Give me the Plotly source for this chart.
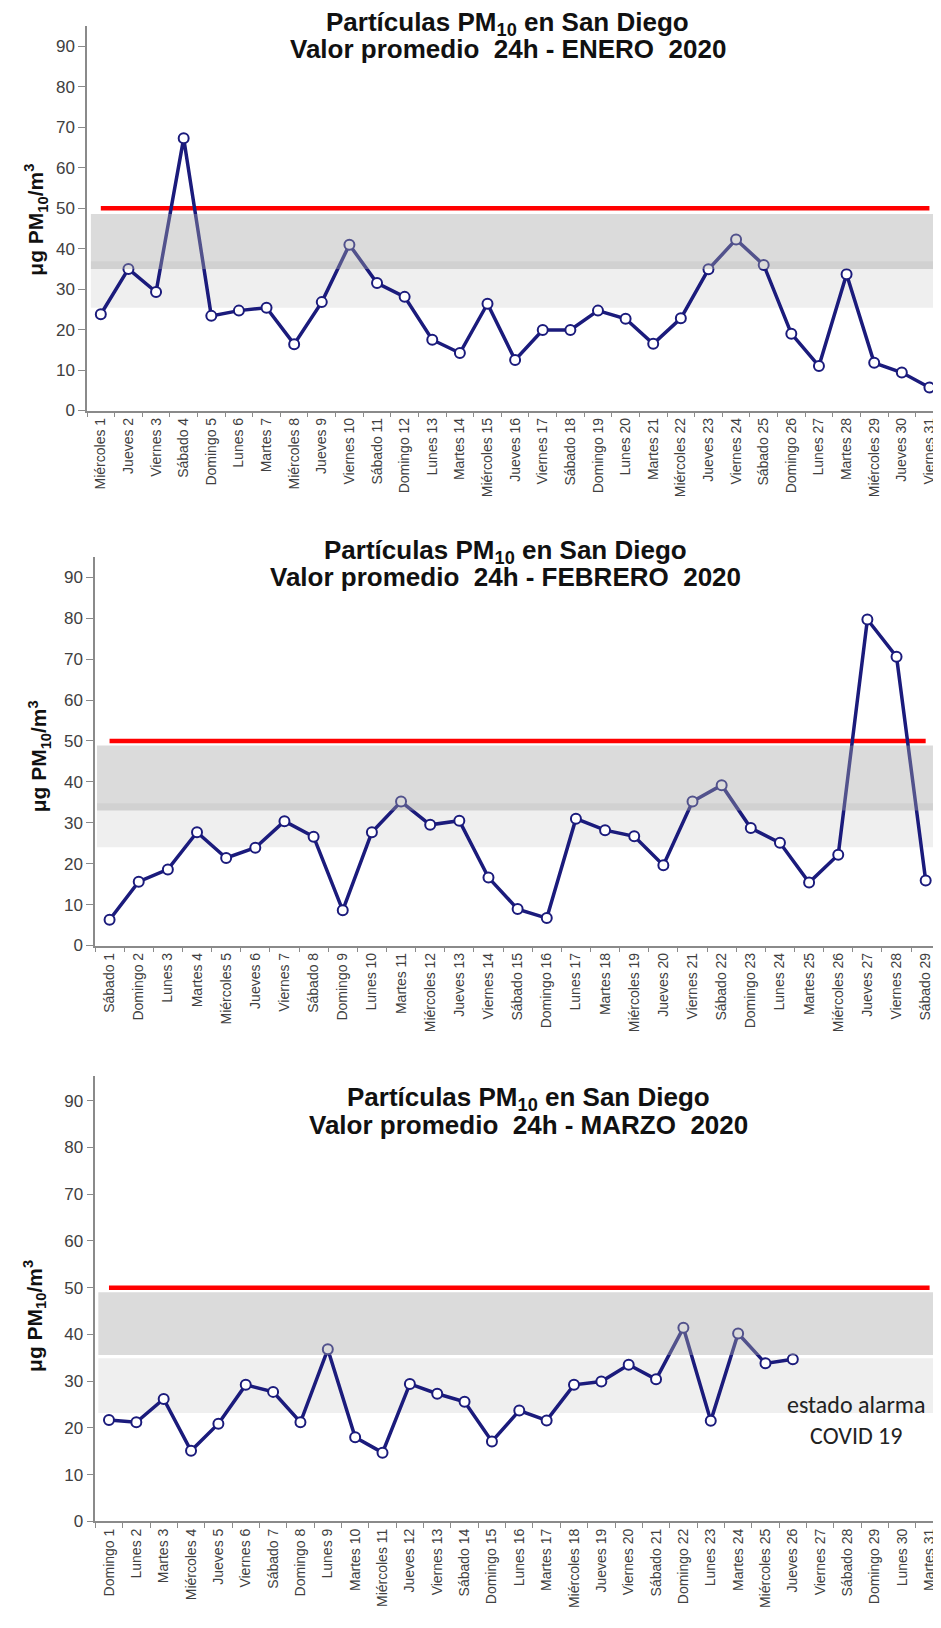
import plotly.graph_objects as go

# ---------------- data ----------------
enero_days = ["Miércoles 1", "Jueves 2", "Viernes 3", "Sábado 4", "Domingo 5", "Lunes 6", "Martes 7",
              "Miércoles 8", "Jueves 9", "Viernes 10", "Sábado 11", "Domingo 12", "Lunes 13", "Martes 14",
              "Miércoles 15", "Jueves 16", "Viernes 17", "Sábado 18", "Domingo 19", "Lunes 20", "Martes 21",
              "Miércoles 22", "Jueves 23", "Viernes 24", "Sábado 25", "Domingo 26", "Lunes 27", "Martes 28",
              "Miércoles 29", "Jueves 30", "Viernes 31"]
enero_pm10 = [23.8, 35.0, 29.3, 67.3, 23.4, 24.7, 25.4, 16.4, 26.8, 41.0, 31.5, 28.1, 17.5, 14.2, 26.4,
              12.5, 19.9, 19.9, 24.7, 22.7, 16.5, 22.8, 34.9, 42.3, 36.0, 19.0, 11.0, 33.7, 11.8, 9.4, 5.7]

febrero_days = ["Sábado 1", "Domingo 2", "Lunes 3", "Martes 4", "Miércoles 5", "Jueves 6", "Viernes 7",
                "Sábado 8", "Domingo 9", "Lunes 10", "Martes 11", "Miércoles 12", "Jueves 13", "Viernes 14",
                "Sábado 15", "Domingo 16", "Lunes 17", "Martes 18", "Miércoles 19", "Jueves 20", "Viernes 21",
                "Sábado 22", "Domingo 23", "Lunes 24", "Martes 25", "Miércoles 26", "Jueves 27", "Viernes 28",
                "Sábado 29"]
febrero_pm10 = [6.3, 15.6, 18.6, 27.7, 21.4, 23.9, 30.4, 26.6, 8.6, 27.7, 35.2, 29.5, 30.5, 16.6, 8.9,
                6.7, 31.0, 28.2, 26.7, 19.6, 35.2, 39.2, 28.7, 25.1, 15.4, 22.2, 79.7, 70.6, 15.9]

marzo_days = ["Domingo 1", "Lunes 2", "Martes 3", "Miércoles 4", "Jueves 5", "Viernes 6", "Sábado 7",
              "Domingo 8", "Lunes 9", "Martes 10", "Miércoles 11", "Jueves 12", "Viernes 13", "Sábado 14",
              "Domingo 15", "Lunes 16", "Martes 17", "Miércoles 18", "Jueves 19", "Viernes 20", "Sábado 21",
              "Domingo 22", "Lunes 23", "Martes 24", "Miércoles 25", "Jueves 26", "Viernes 27", "Sábado 28",
              "Domingo 29", "Lunes 30", "Martes 31"]
marzo_pm10 = [21.7, 21.2, 26.2, 15.1, 20.9, 29.2, 27.7, 21.2, 36.8, 18.0, 14.7, 29.4, 27.3, 25.6, 17.1,
              23.7, 21.6, 29.2, 29.9, 33.5, 30.4, 41.4, 21.5, 40.2, 33.8, 34.7, None, None, None, None, None]

limite_diario = 50
# background reference bands (low, high) per month
banda_clara = [(25.4, 36.9), (24.0, 34.8), (23.2, 34.9)]
banda_oscura = [(35.0, 48.6), (33.0, 48.9), (35.6, 49.0)]
meses = ["ENERO", "FEBRERO", "MARZO"]
y_ticks = [0, 10, 20, 30, 40, 50, 60, 70, 80, 90]

# ---------------- layout geometry (pixels) ----------------
W, H = 941, 1628
NAVY = "#1b1b7c"
AXIS_GRAY = "#8a8a8a"
TICK_COLOR = "#404040"


def fx(p):
    return p / W


def fy(p):
    return 1 - p / H


geom = [
    dict(left=79, right=938, y0=405.0, ytop=18.0, ymax=95.1, xr=30.6, bx0=-0.36, bx1=30.6,
         t1=(500, 16), t2=(500, 41), yt=(28, 213)),
    dict(left=87, right=941, y0=943.3, ytop=552.7, ymax=94.9, xr=28.8, bx0=-0.43, bx1=28.25,
         t1=(498, 547), t2=(498, 573), yt=(31, 753)),
    dict(left=87.3, right=938, y0=1522.7, ytop=1075.0, ymax=95.2, xr=30.6, bx0=-0.39, bx1=30.6,
         t1=(520, 1097), t2=(520, 1124), yt=(27, 1316)),
]
panels = [(enero_days, enero_pm10), (febrero_days, febrero_pm10), (marzo_days, marzo_pm10)]

fig = go.Figure()
layout = {}
shapes = []
annotations = []

TITLE_FONT = dict(family="Liberation Sans, Arial, sans-serif", size=26, color="#111111")

for i, ((days, vals), g) in enumerate(zip(panels, geom)):
    n = i + 1
    xa = "x" if n == 1 else f"x{n}"
    ya = "y" if n == 1 else f"y{n}"
    xkey = "xaxis" if n == 1 else f"xaxis{n}"
    ykey = "yaxis" if n == 1 else f"yaxis{n}"

    # threshold line
    fig.add_trace(go.Scatter(
        x=[days[0], days[-1]], y=[limite_diario, limite_diario], xaxis=xa, yaxis=ya,
        mode="lines", line=dict(color="#ff0000", width=4.5), hoverinfo="skip", showlegend=False))
    # data
    fig.add_trace(go.Scatter(
        x=days, y=vals, xaxis=xa, yaxis=ya, mode="lines+markers",
        line=dict(color=NAVY, width=3.5),
        marker=dict(size=10, color="white", line=dict(color=NAVY, width=2)),
        connectgaps=False, showlegend=False))

    layout[xkey] = dict(
        domain=[fx(g["left"]), fx(g["right"])], anchor=ya, type="category",
        categoryorder="array", categoryarray=days, range=[-0.5, g["xr"]],
        tickangle=-90, tickson="boundaries", ticks="outside", ticklen=5, tickwidth=1,
        tickcolor=AXIS_GRAY, showline=True, linecolor=AXIS_GRAY, linewidth=1.5,
        showgrid=False, zeroline=False, ticklabeloverflow="allow",
        tickfont=dict(family="Liberation Sans, Arial, sans-serif", size=14, color=TICK_COLOR))
    layout[ykey] = dict(
        domain=[fy(g["y0"]), fy(g["ytop"])], anchor=xa, range=[0, g["ymax"]],
        tickvals=y_ticks, ticks="outside", ticklen=7, tickwidth=1, tickcolor=AXIS_GRAY,
        showline=True, linecolor=AXIS_GRAY, linewidth=1.5, showgrid=False, zeroline=False,
        tickfont=dict(family="Liberation Sans Narrow, Arial Narrow, Liberation Sans, sans-serif",
                      size=17, color=TICK_COLOR))

    lo, hi = banda_clara[i]
    shapes.append(dict(type="rect", xref=xa, yref=ya, x0=g["bx0"], x1=g["bx1"], y0=lo, y1=hi,
                       fillcolor="#efefef", line=dict(width=0), layer="below"))
    lo, hi = banda_oscura[i]
    shapes.append(dict(type="rect", xref=xa, yref=ya, x0=g["bx0"], x1=g["bx1"], y0=lo, y1=hi,
                       fillcolor="rgba(165,165,165,0.40)", line=dict(width=0), layer="above"))

    annotations.append(dict(text="<b>Partículas PM<sub>10</sub> en San Diego</b>", xref="paper", yref="paper",
                            x=fx(g["t1"][0]), y=fy(g["t1"][1]), xanchor="center", yanchor="middle",
                            showarrow=False, font=TITLE_FONT))
    annotations.append(dict(text=f"<b>Valor promedio  24h - {meses[i]}  2020</b>", xref="paper", yref="paper",
                            x=fx(g["t2"][0]), y=fy(g["t2"][1]), xanchor="center", yanchor="middle",
                            showarrow=False, font=TITLE_FONT))
    annotations.append(dict(text="<b>μg PM<sub>10</sub>/m<sup>3</sup></b>", xref="paper", yref="paper",
                            x=fx(g["yt"][0]), y=fy(g["yt"][1]), xanchor="center", yanchor="middle",
                            textangle=-90, showarrow=False,
                            font=dict(family="Liberation Sans, Arial, sans-serif", size=21, color="#111111")))

annotations.append(dict(text="estado alarma<br>COVID 19", xref="paper", yref="paper",
                        x=fx(848), y=fy(1421), xanchor="center", yanchor="middle", showarrow=False,
                        font=dict(family="Carlito, Calibri, Lato, sans-serif", size=24, color="#222222")))

fig.update_layout(
    width=W, height=H, margin=dict(l=0, r=0, t=0, b=0),
    paper_bgcolor="white", plot_bgcolor="white", showlegend=False,
    shapes=shapes, annotations=annotations, **layout)

fig.write_html("out.html")
